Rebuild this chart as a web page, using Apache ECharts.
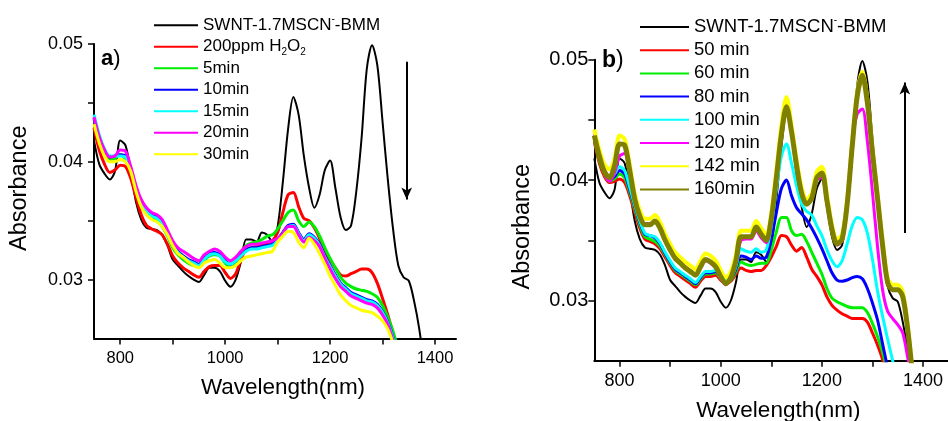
<!DOCTYPE html>
<html><head><meta charset="utf-8">
<script src="https://cdn.jsdelivr.net/npm/echarts@6/dist/echarts.min.js"></script>
<style>html,body{margin:0;padding:0;background:#fff}#c{width:948px;height:421px}</style>
</head><body><div id="c"></div>
<script>
const wavelengths = [
 750,760,770,780,790,800,810,820,830,840,
 850,860,870,880,890,900,910,920,930,940,
 950,960,970,980,990,1000,1010,1020,1030,1040,
 1050,1060,1070,1080,1090,1100,1110,1120,1130,1140,
 1150,1160,1170,1180,1190,1200,1210,1220,1230,1240,
 1250,1260,1270,1280,1290,1300,1310,1320,1330,1340,
 1350,1360,1370,1380];

// reference sample, same in both panels
const swntBMM = [
 0.0418,0.0398,0.0390,0.0385,0.0392,0.0418,0.0414,0.0392,0.0366,0.0351,
 0.0344,0.0343,0.0342,0.0338,0.0329,0.0317,0.0312,0.0307,0.0303,0.0300,
 0.0298,0.0304,0.0310,0.0310,0.0307,0.0299,0.0294,0.0300,0.0315,0.0334,
 0.0334,0.0332,0.0340,0.0338,0.0332,0.0345,0.0383,0.0428,0.0455,0.0440,
 0.0405,0.0378,0.0361,0.0372,0.0393,0.0401,0.0378,0.0353,0.0342,0.0346,
 0.0375,0.0420,0.0479,0.0499,0.0482,0.0434,0.0385,0.0343,0.0312,0.0302,
 0.0299,0.0282,0.0258,0.0225];

// panel a
const a_200ppm = [
 0.0429,0.0410,0.0398,0.0391,0.0393,0.0397,0.0396,0.0386,0.0370,0.0355,
 0.0346,0.0343,0.0341,0.0338,0.0330,0.0320,0.0314,0.0310,0.0307,0.0304,
 0.0302,0.0307,0.0311,0.0312,0.0312,0.0306,0.0301,0.0305,0.0317,0.0326,
 0.0327,0.0328,0.0329,0.0331,0.0333,0.0340,0.0357,0.0372,0.0374,0.0362,
 0.0352,0.0350,0.0344,0.0335,0.0324,0.0317,0.0310,0.0304,0.0303,0.0305,
 0.0307,0.0309,0.0309,0.0306,0.0297,0.0284,0.0270,0.0254,0.0236,null,
 null,null,null,null];
const a_5min = [
 0.0436,0.0420,0.0408,0.0402,0.0403,0.0406,0.0402,0.0392,0.0376,0.0363,
 0.0356,0.0353,0.0350,0.0345,0.0337,0.0327,0.0321,0.0317,0.0314,0.0312,
 0.0311,0.0316,0.0320,0.0321,0.0320,0.0314,0.0311,0.0314,0.0322,0.0329,
 0.0331,0.0332,0.0334,0.0337,0.0338,0.0343,0.0350,0.0357,0.0359,0.0350,
 0.0345,0.0349,0.0345,0.0337,0.0327,0.0318,0.0310,0.0302,0.0297,0.0294,
 0.0292,0.0291,0.0290,0.0288,0.0285,0.0278,0.0268,0.0256,0.0240,null,
 null,null,null,null];
const a_10min = [
 0.0437,0.0421,0.0410,0.0404,0.0405,0.0406,0.0405,0.0394,0.0378,0.0366,
 0.0359,0.0355,0.0353,0.0348,0.0339,0.0330,0.0324,0.0320,0.0317,0.0315,
 0.0313,0.0318,0.0322,0.0323,0.0321,0.0316,0.0313,0.0316,0.0321,0.0325,
 0.0327,0.0327,0.0328,0.0329,0.0330,0.0334,0.0340,0.0346,0.0347,0.0340,
 0.0334,0.0339,0.0336,0.0330,0.0320,0.0312,0.0304,0.0297,0.0293,0.0289,
 0.0287,0.0285,0.0283,0.0282,0.0279,0.0273,0.0264,0.0251,0.0234,null,
 null,null,null,null];
const a_15min = [
 0.0440,0.0423,0.0411,0.0405,0.0405,0.0405,0.0404,0.0394,0.0378,0.0366,
 0.0358,0.0354,0.0352,0.0347,0.0338,0.0329,0.0323,0.0319,0.0316,0.0314,
 0.0312,0.0317,0.0321,0.0322,0.0320,0.0315,0.0313,0.0316,0.0320,0.0324,
 0.0326,0.0326,0.0327,0.0328,0.0329,0.0333,0.0339,0.0345,0.0346,0.0339,
 0.0333,0.0338,0.0335,0.0329,0.0319,0.0311,0.0303,0.0296,0.0292,0.0288,
 0.0286,0.0284,0.0282,0.0281,0.0278,0.0272,0.0263,0.0250,0.0233,null,
 null,null,null,null];
const a_20min = [
 0.0438,0.0421,0.0410,0.0404,0.0405,0.0410,0.0409,0.0396,0.0380,0.0368,
 0.0361,0.0357,0.0355,0.0351,0.0342,0.0333,0.0327,0.0324,0.0321,0.0318,
 0.0316,0.0321,0.0324,0.0326,0.0324,0.0319,0.0316,0.0319,0.0324,0.0328,
 0.0330,0.0330,0.0331,0.0332,0.0333,0.0335,0.0339,0.0345,0.0345,0.0338,
 0.0332,0.0336,0.0333,0.0328,0.0318,0.0309,0.0301,0.0294,0.0290,0.0286,
 0.0284,0.0282,0.0280,0.0279,0.0276,0.0270,0.0262,0.0248,0.0232,null,
 null,null,null,null];
const a_30min = [
 0.0432,0.0416,0.0405,0.0400,0.0400,0.0402,0.0400,0.0392,0.0375,0.0362,
 0.0355,0.0351,0.0349,0.0345,0.0338,0.0329,0.0322,0.0319,0.0315,0.0312,
 0.0310,0.0314,0.0316,0.0317,0.0314,0.0310,0.0310,0.0312,0.0316,0.0319,
 0.0320,0.0321,0.0322,0.0323,0.0324,0.0332,0.0337,0.0341,0.0340,0.0332,
 0.0327,0.0335,0.0330,0.0322,0.0313,0.0303,0.0295,0.0287,0.0282,0.0278,
 0.0276,0.0274,0.0273,0.0272,0.0269,0.0265,0.0258,0.0246,0.0232,null,
 null,null,null,null];

// panel b
const b_50min = [
 0.0432,0.0414,0.0403,0.0398,0.0399,0.0401,0.0398,0.0387,0.0373,0.0360,
 0.0351,0.0349,0.0347,0.0343,0.0336,0.0329,0.0323,0.0320,0.0317,0.0314,
 0.0311,0.0316,0.0320,0.0320,0.0321,0.0317,0.0314,0.0316,0.0322,0.0327,
 0.0325,0.0324,0.0325,0.0325,0.0329,0.0336,0.0345,0.0354,0.0353,0.0346,
 0.0341,0.0344,0.0336,0.0326,0.0320,0.0313,0.0303,0.0296,0.0292,0.0289,
 0.0287,0.0285,0.0285,0.0285,0.0282,0.0273,0.0263,0.0251,0.0235,null,
 null,null,null,null];
const b_60min = [
 0.0434,0.0416,0.0405,0.0399,0.0401,0.0405,0.0402,0.0390,0.0376,0.0363,
 0.0353,0.0351,0.0349,0.0345,0.0338,0.0331,0.0325,0.0322,0.0319,0.0316,
 0.0313,0.0318,0.0322,0.0322,0.0323,0.0318,0.0315,0.0317,0.0324,0.0332,
 0.0330,0.0329,0.0330,0.0331,0.0331,0.0342,0.0357,0.0369,0.0369,0.0358,
 0.0354,0.0355,0.0349,0.0340,0.0331,0.0322,0.0310,0.0302,0.0299,0.0297,
 0.0295,0.0294,0.0294,0.0294,0.0290,0.0281,0.0270,0.0257,0.0240,null,
 null,null,null,null];
const b_80min = [
 0.0436,0.0418,0.0406,0.0400,0.0403,0.0408,0.0405,0.0392,0.0378,0.0365,
 0.0355,0.0354,0.0352,0.0347,0.0339,0.0332,0.0326,0.0323,0.0320,0.0317,
 0.0314,0.0319,0.0323,0.0323,0.0324,0.0319,0.0316,0.0318,0.0326,0.0337,
 0.0336,0.0334,0.0337,0.0335,0.0336,0.0351,0.0373,0.0393,0.0400,0.0387,
 0.0377,0.0372,0.0367,0.0360,0.0352,0.0343,0.0333,0.0323,0.0317,0.0316,
 0.0317,0.0319,0.0320,0.0318,0.0310,0.0298,0.0284,0.0264,0.0244,null,
 null,null,null,null];
const b_100min = [
 0.0438,0.0419,0.0407,0.0401,0.0405,0.0411,0.0408,0.0394,0.0379,0.0366,
 0.0356,0.0354,0.0353,0.0348,0.0340,0.0333,0.0327,0.0324,0.0321,0.0318,
 0.0315,0.0320,0.0324,0.0324,0.0325,0.0320,0.0317,0.0319,0.0328,0.0343,
 0.0341,0.0340,0.0343,0.0340,0.0342,0.0362,0.0392,0.0420,0.0430,0.0414,
 0.0395,0.0380,0.0374,0.0371,0.0362,0.0354,0.0342,0.0333,0.0328,0.0333,
 0.0347,0.0362,0.0369,0.0367,0.0356,0.0334,0.0308,0.0287,0.0268,0.0250,
 0.0232,null,null,null];
const b_120min = [
 0.0438,0.0420,0.0406,0.0399,0.0406,0.0420,0.0422,0.0405,0.0385,0.0371,
 0.0364,0.0364,0.0365,0.0360,0.0351,0.0343,0.0336,0.0332,0.0328,0.0325,
 0.0322,0.0328,0.0333,0.0331,0.0327,0.0318,0.0313,0.0319,0.0331,0.0350,
 0.0351,0.0351,0.0358,0.0352,0.0348,0.0370,0.0405,0.0442,0.0460,0.0440,
 0.0408,0.0389,0.0381,0.0385,0.0400,0.0402,0.0380,0.0358,0.0346,0.0350,
 0.0378,0.0432,0.0455,0.0459,0.0432,0.0390,0.0345,0.0309,0.0291,0.0285,
 0.0280,0.0273,0.0252,0.0228];
const b_142min = [
 0.0442,0.0425,0.0413,0.0409,0.0418,0.0437,0.0434,0.0413,0.0389,0.0375,
 0.0368,0.0368,0.0371,0.0365,0.0355,0.0347,0.0340,0.0336,0.0332,0.0329,
 0.0326,0.0333,0.0339,0.0337,0.0333,0.0325,0.0319,0.0324,0.0338,0.0358,
 0.0358,0.0358,0.0366,0.0360,0.0355,0.0373,0.0408,0.0446,0.0469,0.0446,
 0.0417,0.0394,0.0384,0.0389,0.0407,0.0411,0.0388,0.0363,0.0351,0.0355,
 0.0383,0.0432,0.0473,0.0490,0.0467,0.0426,0.0388,0.0350,0.0319,0.0313,
 0.0313,0.0307,0.0278,0.0236];
const b_160min = [
 0.0437,0.0420,0.0407,0.0402,0.0412,0.0430,0.0429,0.0408,0.0384,0.0370,
 0.0363,0.0363,0.0366,0.0360,0.0350,0.0342,0.0335,0.0331,0.0327,0.0324,
 0.0321,0.0328,0.0334,0.0332,0.0328,0.0320,0.0314,0.0319,0.0333,0.0353,
 0.0353,0.0353,0.0361,0.0355,0.0350,0.0368,0.0402,0.0438,0.0461,0.0440,
 0.0412,0.0389,0.0380,0.0385,0.0402,0.0406,0.0383,0.0359,0.0347,0.0351,
 0.0380,0.0428,0.0470,0.0487,0.0464,0.0423,0.0385,0.0346,0.0315,0.0309,
 0.0309,0.0303,0.0275,0.0235];

const xTickValues = [800,900,1000,1100,1200,1300,1400];
const xLabelValues = [800,1000,1200,1400];
const yTickValues = [0.03,0.035,0.04,0.045,0.05];
const yLabelValues = [0.03,0.04,0.05];
const arrowA = {x:1346, from:0.0485, to:0.0368};
const arrowB = {x:1364, from:0.0356, to:0.0481};

const FF = 'Liberation Sans, Arial, sans-serif';
const pairs = vals => wavelengths.map((w,i)=>[w, vals[i]]).filter(p=>p[1]!=null);

const seriesA = [
 ['SWNT-1.7MSCN-BMM', swntBMM, '#000000', 2],
 ['200ppm H2O2', a_200ppm, '#ff0000', 3],
 ['5min', a_5min, '#00ee00', 3],
 ['10min', a_10min, '#0000ff', 3],
 ['15min', a_15min, '#00ffff', 3],
 ['20min', a_20min, '#ff00ff', 3],
 ['30min', a_30min, '#ffff00', 3]
];
const seriesB = [
 ['SWNT-1.7MSCN-BMM', swntBMM, '#000000', 2],
 ['50 min', b_50min, '#ff0000', 3],
 ['60 min', b_60min, '#00ee00', 3],
 ['80 min', b_80min, '#0000ff', 3],
 ['100 min', b_100min, '#00ffff', 3],
 ['120 min', b_120min, '#ff00ff', 3],
 ['142 min', b_142min, '#ffff00', 4],
 ['160min', b_160min, '#808000', 5]
];

function mkSeries(list, idx, arrow) {
  return list.map((s, i) => {
    const o = {
      name: s[0], type: 'line', xAxisIndex: idx, yAxisIndex: idx,
      data: pairs(s[1]), showSymbol: false, symbol: 'none', smooth: 0.3,
      lineStyle: {color: s[2], width: s[3]}, itemStyle: {color: s[2]},
      animation: false, silent: true, clip: true
    };
    if (i === 0) {
      o.markLine = {
        silent: true, symbol: ['none', 'arrow'], symbolSize: [8, 12],
        lineStyle: {color: '#000', width: 2, type: 'solid'}, label: {show: false},
        animation: false,
        data: [[{coord: [arrow.x, arrow.from]}, {coord: [arrow.x, arrow.to]}]]
      };
    }
    return o;
  });
}

function xAxisCfg(idx, max, fs, gap, shift) {
  return {
    type: 'value', gridIndex: idx, min: 750, max: max,
    name: 'Wavelength(nm)', nameLocation: 'middle', nameGap: gap,
    nameTextStyle: {fontFamily: FF, fontSize: 22.5, color: '#000', padding: [0,0,0,shift]},
    axisLine: {show: true, onZero: false, lineStyle: {color: '#000', width: 2}},
    axisTick: {show: true, customValues: xTickValues, length: 6, inside: false, lineStyle: {color: '#000', width: 1.5}},
    axisLabel: {customValues: xLabelValues, margin: 11, fontFamily: FF, fontSize: fs, color: '#000',
      formatter: v => String(v)},
    splitLine: {show: false}
  };
}
function yAxisCfg(idx, fs, margin, gap, pad) {
  return {
    type: 'value', gridIndex: idx, min: 0.025, max: 0.05,
    name: 'Absorbance', nameLocation: 'middle', nameGap: gap,
    nameTextStyle: {fontFamily: FF, fontSize: 23.5, color: '#000', padding: pad},
    axisLine: {show: true, onZero: false, lineStyle: {color: '#000', width: 2}},
    axisTick: {show: true, customValues: yTickValues, length: 6, lineStyle: {color: '#000', width: 1.5}},
    axisLabel: {customValues: yLabelValues, margin: margin, fontFamily: FF, fontSize: fs, color: '#000',
      formatter: v => v.toFixed(2)},
    splitLine: {show: false}
  };
}

const legendRich = (fs, lh) => ({
  n: {fontFamily: FF, fontSize: fs, lineHeight: lh, color: '#000'},
  sup: {fontFamily: FF, fontSize: 10, lineHeight: lh - 9, verticalAlign: 'top', color: '#000'},
  sub: {fontFamily: FF, fontSize: 10, lineHeight: lh - 12, verticalAlign: 'bottom', color: '#000'}
});
const legendText = {
  'SWNT-1.7MSCN-BMM': '{n|SWNT-1.7MSCN}{sup|-}{n|-BMM}',
  '200ppm H2O2': '{n|200ppm H}{sub|2}{n|O}{sub|2}'
};
const fmt = name => legendText[name] || ('{n|' + name + '}');

const chart = echarts.init(document.getElementById('c'), null, {renderer: 'canvas'});
chart.setOption({
  animation: false,
  backgroundColor: '#fff',
  grid: [
    {left: 94, top: 44, width: 362, height: 294.5, outerBoundsMode: 'none', containLabel: false},
    {left: 594.3, top: 59.7, width: 354, height: 301, outerBoundsMode: 'none', containLabel: false}
  ],
  xAxis: [xAxisCfg(0, 1440, 16.5, 38, 16), xAxisCfg(1, 1450, 18, 39, 14)],
  yAxis: [yAxisCfg(0, 18, 11, 62, [0,0,0,6]), yAxisCfg(1, 20, 6, 60, [0,33,0,0])],
  legend: [
    {data: seriesA.map(s=>s[0]), orient: 'vertical', left: 154, top: 14.5, itemGap: 0,
     icon: 'rect', itemWidth: 44, itemHeight: 2, selectedMode: false, padding: 0,
     formatter: fmt, textStyle: {fontFamily: FF, fontSize: 17, lineHeight: 21.5, color: '#000', rich: legendRich(17, 21.5)}},
    {data: seriesB.map(s=>s[0]), orient: 'vertical', left: 640, top: 15.5, itemGap: 0.2,
     icon: 'rect', itemWidth: 49, itemHeight: 2, selectedMode: false, padding: 0,
     formatter: fmt, textStyle: {fontFamily: FF, fontSize: 18.5, lineHeight: 23, color: '#000', rich: legendRich(18.5, 23)}}
  ],
  graphic: [
    {type: 'text', left: 101, top: 48, silent: true,
     style: {text: '{b|a}{n|)}', fill: '#000',
       rich: {b: {fontFamily: FF, fontSize: 22, fontWeight: 'bold', fill: '#000'}, n: {fontFamily: FF, fontSize: 22, fill: '#000'}}}},
    {type: 'text', left: 602, top: 49, silent: true,
     style: {text: '{b|b}{n|)}', fill: '#000',
       rich: {b: {fontFamily: FF, fontSize: 23, fontWeight: 'bold', fill: '#000'}, n: {fontFamily: FF, fontSize: 23, fill: '#000'}}}}
  ],
  series: mkSeries(seriesA, 0, arrowA).concat(mkSeries(seriesB, 1, arrowB))
});
</script>
</body></html>
